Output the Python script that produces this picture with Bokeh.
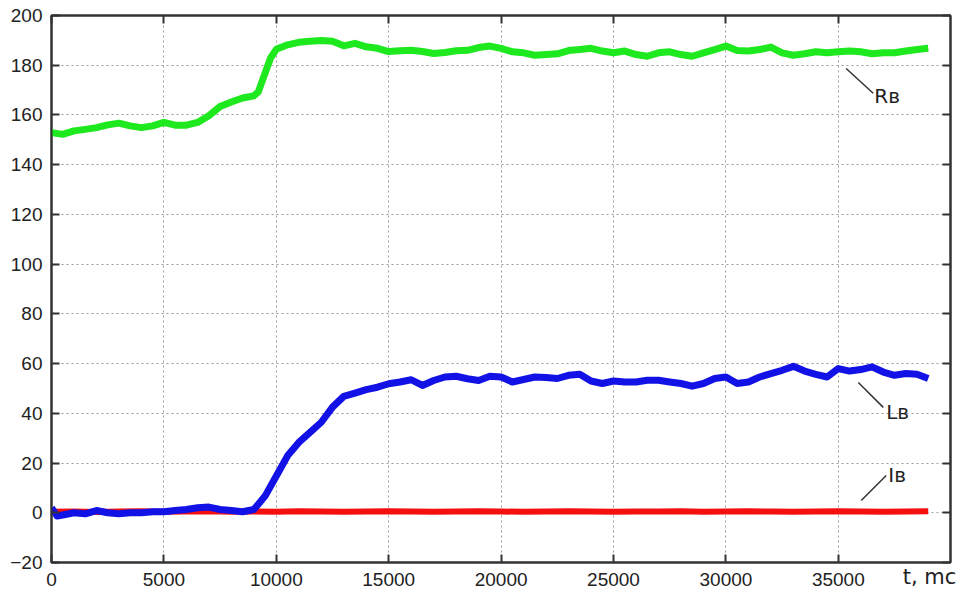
from bokeh.plotting import figure
from bokeh.models import Range1d, LinearAxis, FixedTicker, Label
from bokeh.embed import file_html
from bokeh.resources import INLINE

# ---- data ----
t_r = [0, 500, 1000, 1500, 2000, 2500, 3000, 3500, 4000, 4500, 5000, 5500, 6000, 6500,
       7000, 7500, 8000, 8500, 9000, 9200, 9500, 9750, 10000, 10500, 11000, 11500, 12000,
       12500, 13000, 13500, 14000, 14500, 15000, 15500, 16000, 16500, 17000, 17500, 18000,
       18500, 19000, 19500, 20000, 20500, 21000, 21500, 22000, 22500, 23000, 23500, 24000,
       24500, 25000, 25500, 26000, 26500, 27000, 27500, 28000, 28500, 29000, 29500, 30000,
       30500, 31000, 31500, 32000, 32500, 33000, 33500, 34000, 34500, 35000, 35500, 36000,
       36500, 37000, 37500, 38000, 38500, 39000]
R_v = [152.9, 152.2, 153.6, 154.2, 154.9, 156.0, 156.7, 155.6, 154.9, 155.6, 157.0, 155.9,
       155.9, 157.0, 159.7, 163.4, 165.2, 166.8, 167.7, 169.3, 176.8, 183.0, 186.4, 188.2,
       189.2, 189.6, 189.9, 189.6, 187.8, 188.8, 187.4, 186.8, 185.5, 185.8, 186.0, 185.5,
       184.7, 185.1, 185.8, 186.0, 187.1, 187.7, 186.8, 185.4, 185.0, 184.0, 184.3, 184.6,
       185.9, 186.3, 186.8, 185.7, 185.0, 185.7, 184.3, 183.6, 185.0, 185.4, 184.3, 183.6,
       185.0, 186.3, 187.7, 185.9, 185.7, 186.3, 187.3, 185.0, 184.0, 184.6, 185.4, 185.0,
       185.4, 185.7, 185.4, 184.6, 185.0, 185.0, 185.7, 186.3, 186.8]

t_l = [0, 250, 500, 1000, 1500, 2000, 2500, 3000, 3500, 4000, 4500, 5000, 5500, 6000, 6500,
       7000, 7500, 8000, 8500, 9000, 9500, 10000, 10500, 11000, 11500, 12000, 12500, 13000,
       13500, 14000, 14500, 15000, 15500, 16000, 16500, 17000, 17500, 18000, 18500, 19000,
       19500, 20000, 20500, 21000, 21500, 22000, 22500, 23000, 23500, 24000, 24500, 25000,
       25500, 26000, 26500, 27000, 27500, 28000, 28500, 29000, 29500, 30000, 30500, 31000,
       31500, 32000, 32500, 33000, 33500, 34000, 34500, 35000, 35500, 36000, 36500, 37000,
       37500, 38000, 38500, 39000]
L_v = [2.0, -1.3, -0.9, 0.0, -0.4, 0.9, 0.0, -0.4, 0.0, 0.0, 0.4, 0.4, 0.9, 1.3, 2.0,
       2.3, 1.3, 0.9, 0.4, 1.3, 6.7, 14.8, 22.9, 28.3, 32.3, 36.4, 42.5, 46.8, 48.1, 49.5,
       50.5, 51.9, 52.6, 53.5, 51.2, 53.2, 54.6, 54.9, 53.9, 53.2, 54.9, 54.6, 52.6, 53.6,
       54.6, 54.4, 54.0, 55.3, 55.7, 53.0, 52.0, 53.0, 52.6, 52.6, 53.3, 53.3, 52.6, 52.0,
       50.9, 52.0, 54.0, 54.6, 52.0, 52.6, 54.6, 56.0, 57.3, 58.9, 57.0, 55.7, 54.6, 58.0,
       57.0, 57.6, 58.7, 56.6, 55.3, 56.0, 55.7, 54.0]

t_i = [0, 1000, 2000, 3000, 4000, 5000, 6000, 7000, 8000, 9000, 10000, 11000, 12000, 13000,
       14000, 15000, 16000, 17000, 18000, 19000, 20000, 21000, 22000, 23000, 24000, 25000,
       26000, 27000, 28000, 29000, 30000, 31000, 32000, 33000, 34000, 35000, 36000, 37000,
       38000, 39000]
I_v = [0.4, 0.5, 0.3, 0.5, 0.6, 0.4, 0.5, 0.6, 0.4, 0.5, 0.4, 0.6, 0.5, 0.4, 0.5, 0.6,
       0.5, 0.4, 0.5, 0.6, 0.5, 0.4, 0.5, 0.6, 0.5, 0.4, 0.5, 0.5, 0.6, 0.4, 0.5, 0.6,
       0.5, 0.4, 0.5, 0.6, 0.5, 0.4, 0.5, 0.6]

x_ticks = [0, 5000, 10000, 15000, 20000, 25000, 30000, 35000]
y_ticks = [-20, 0, 20, 40, 60, 80, 100, 120, 140, 160, 180, 200]

labels = ["R\u0432", "L\u0432", "I\u0432"]
label_pos = [(36600, 167.5), (37130, 40.7), (37220, 15.0)]
leaders = [((35350, 36550), (178.7, 168.7)),
           ((35890, 37000), (52.4, 42.4)),
           ((36020, 37130), (4.9, 15.0))]
x_title = "t, mc"

# ---- figure ----
p = figure(width=959, height=595, output_backend="svg", toolbar_location=None,
           x_range=Range1d(0, 39990), y_range=Range1d(-20, 200),
           min_border_left=51, min_border_top=15, min_border_right=9, min_border_bottom=33)
p.outline_line_color = "#333333"
p.outline_line_width = 2
p.background_fill_color = "white"
p.border_fill_color = "white"

TICK_FONT = "Liberation Sans"
for ax, tk in ((p.xaxis[0], x_ticks), (p.yaxis[0], y_ticks)):
    ax.ticker = FixedTicker(ticks=tk)
    ax.major_tick_in = 8
    ax.major_tick_out = 0
    ax.minor_tick_in = 0
    ax.minor_tick_out = 0
    ax.major_tick_line_color = "#333333"
    ax.major_tick_line_width = 2
    ax.axis_line_color = "#333333"
    ax.axis_line_width = 2
    ax.major_label_text_font = TICK_FONT
    ax.major_label_text_font_size = "19px"
    ax.major_label_text_color = "#222222"
p.xaxis.major_label_standoff = 10
p.yaxis.major_label_standoff = 9

# x axis title placed at the right end, on the tick-label line
# (trailing em spaces shift the centred title left so it stays in the window)
xa = p.xaxis[0]
xa.axis_label = x_title + "\u2003\u2003"
xa.axis_label_text_font = "DejaVu Sans"
xa.axis_label_text_font_size = "21px"
xa.axis_label_text_font_style = "normal"
xa.axis_label_text_color = "#222222"
xa.axis_label_standoff = -24
try:
    xa.axis_label_align = "end"
except Exception:
    pass

for loc, tk in (("above", x_ticks), ("right", y_ticks)):
    ax = LinearAxis(ticker=FixedTicker(ticks=tk))
    ax.major_tick_in = 8
    ax.major_tick_out = 0
    ax.minor_tick_in = 0
    ax.minor_tick_out = 0
    ax.major_tick_line_color = "#333333"
    ax.major_tick_line_width = 2
    ax.axis_line_color = "#333333"
    ax.axis_line_width = 2
    ax.major_label_text_color = None
    ax.major_label_text_font_size = "1px"
    ax.major_label_standoff = 0
    p.add_layout(ax, loc)

p.xgrid.ticker = FixedTicker(ticks=x_ticks)
p.ygrid.ticker = FixedTicker(ticks=y_ticks)
for g in (p.xgrid[0], p.ygrid[0]):
    g.grid_line_color = "#9a9a9a"
    g.grid_line_dash = "2 3"
    g.grid_line_width = 1

# ---- series ----
p.line(t_r, R_v, line_color="#1ee81e", line_width=7, line_join="round")
p.line(t_i, I_v, line_color="#f51010", line_width=6, line_join="round")
p.line(t_l, L_v, line_color="#1212e6", line_width=7, line_join="round")

# ---- annotations ----
for (xs, ys) in leaders:
    p.line(list(xs), list(ys), line_color="#333333", line_width=1.5)
for txt, (lx, ly) in zip(labels, label_pos):
    p.add_layout(Label(x=lx, y=ly, text=txt, text_font="DejaVu Sans",
                       text_font_size="20px", text_color="#222222",
                       text_baseline="middle", text_align="left"))

open("out.html", "w").write(file_html(p, INLINE))
